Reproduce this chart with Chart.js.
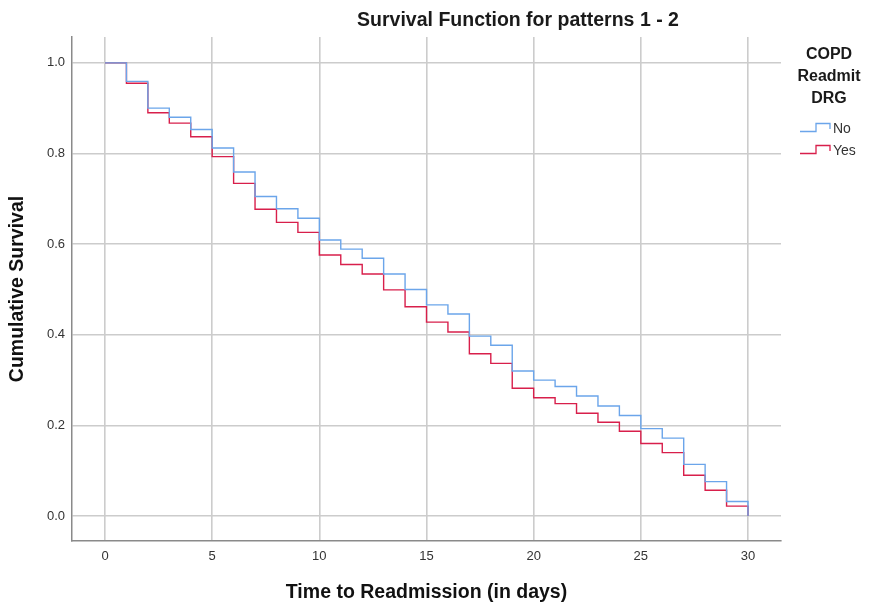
<!DOCTYPE html>
<html>
<head>
<meta charset="utf-8">
<script src="https://cdn.jsdelivr.net/npm/chart.js@4/dist/chart.umd.min.js"></script>
<style>
  html, body { margin: 0; padding: 0; background: #ffffff; }
  #wrap { width: 875px; height: 604px; position: relative; }
</style>
</head>
<body>
<div id="wrap"><canvas id="c" width="875" height="604"></canvas></div>
<script>
const chartTitle = "Survival Function for patterns 1 - 2";
const xAxisTitle = "Time to Readmission (in days)";
const yAxisTitle = "Cumulative Survival";
const legendTitle = ["COPD", "Readmit", "DRG"];
const days = [0,1,2,3,4,5,6,7,8,9,10,11,12,13,14,15,16,17,18,19,20,21,22,23,24,25,26,27,28,29,30];
const survivalNo = [1.000,0.959,0.900,0.880,0.853,0.812,0.759,0.705,0.678,0.657,0.609,0.589,0.569,0.534,0.500,0.466,0.446,0.397,0.377,0.320,0.300,0.286,0.265,0.243,0.222,0.193,0.172,0.114,0.076,0.032,0.000];
const survivalYes = [1.000,0.955,0.890,0.867,0.837,0.793,0.734,0.677,0.648,0.626,0.576,0.555,0.534,0.499,0.462,0.428,0.406,0.358,0.337,0.282,0.261,0.248,0.227,0.207,0.187,0.160,0.140,0.090,0.057,0.022,0.000];
const seriesLabels = ["No", "Yes"];
const xTicks = [0,5,10,15,20,25,30];
const yTicks = [0.0,0.2,0.4,0.6,0.8,1.0];

const colNo = "#6ba5ea";
const colYes = "#d81f4b";
const FONT = "'Liberation Sans', Arial, sans-serif";

const decor = {
  id: "decor",
  afterDraw(chart) {
    const ctx = chart.ctx;
    ctx.save();
    ctx.fillStyle = "#1a1a1a";
    ctx.font = "bold 19.5px " + FONT;
    ctx.textAlign = "center";
    ctx.textBaseline = "middle";
    ctx.fillText(chartTitle, 518, 21);
    ctx.font = "bold 16px " + FONT;
    legendTitle.forEach((t, i) => ctx.fillText(t, 829, 55 + i * 22));
    ctx.font = "14px " + FONT;
    ctx.textAlign = "left";
    chart.data.datasets.forEach((ds, i) => {
      const y = 128 + i * 22;
      ctx.strokeStyle = ds.borderColor;
      ctx.lineWidth = 1.3;
      ctx.beginPath();
      ctx.moveTo(800, y + 3.5);
      ctx.lineTo(816, y + 3.5);
      ctx.lineTo(816, y - 4.5);
      ctx.lineTo(830, y - 4.5);
      ctx.lineTo(830, y + 1);
      ctx.stroke();
      ctx.fillStyle = "#333333";
      ctx.fillText(ds.label, 833, y + 1);
    });
    ctx.restore();
  }
};

new Chart(document.getElementById("c"), {
  type: "line",
  data: {
    datasets: [
      { label: seriesLabels[0], data: days.map((d, i) => ({x: d, y: survivalNo[i]})),
        borderColor: colNo, backgroundColor: colNo, borderWidth: 1.4, stepped: "before",
        pointRadius: 0, fill: false },
      { label: seriesLabels[1], data: days.map((d, i) => ({x: d, y: survivalYes[i]})),
        borderColor: colYes, backgroundColor: colYes, borderWidth: 1.4, stepped: "before",
        pointRadius: 0, fill: false }
    ]
  },
  options: {
    responsive: false,
    animation: false,
    devicePixelRatio: 1,
    layout: { padding: { top: 37, right: 94, left: 0, bottom: 0 } },
    plugins: { legend: { display: false }, title: { display: false }, tooltip: { enabled: false } },
    scales: {
      x: {
        type: "linear", min: -1.54, max: 31.54,
        afterBuildTicks: (s) => { s.ticks = xTicks.map(v => ({value: v})); },
        afterFit: (s) => { s.height = 63; },
        grid: { color: "#cccccc", lineWidth: 1.6, drawTicks: false },
        border: { color: "#8a8a8a", width: 1.5 },
        ticks: { color: "#333333", padding: 8, font: { size: 13, family: FONT } },
        title: { display: true, text: xAxisTitle, color: "#111111", padding: { top: 0, bottom: 0 },
                 font: { size: 19.5, weight: "bold", family: FONT } }
      },
      y: {
        type: "linear", min: -0.055, max: 1.057,
        afterBuildTicks: (s) => { s.ticks = yTicks.map(v => ({value: v})); },
        afterFit: (s) => { s.width = 72; },
        grid: { color: "#cccccc", lineWidth: 1.6, drawTicks: false },
        border: { color: "#8a8a8a", width: 1.5 },
        ticks: { color: "#333333", padding: 7, font: { size: 13, family: FONT },
                 callback: (v) => Number(v).toFixed(1) },
        title: { display: true, text: yAxisTitle, color: "#111111", padding: { top: 6, bottom: 0 },
                 font: { size: 19.5, weight: "bold", family: FONT } }
      }
    }
  },
  plugins: [decor]
});
</script>
</body>
</html>
